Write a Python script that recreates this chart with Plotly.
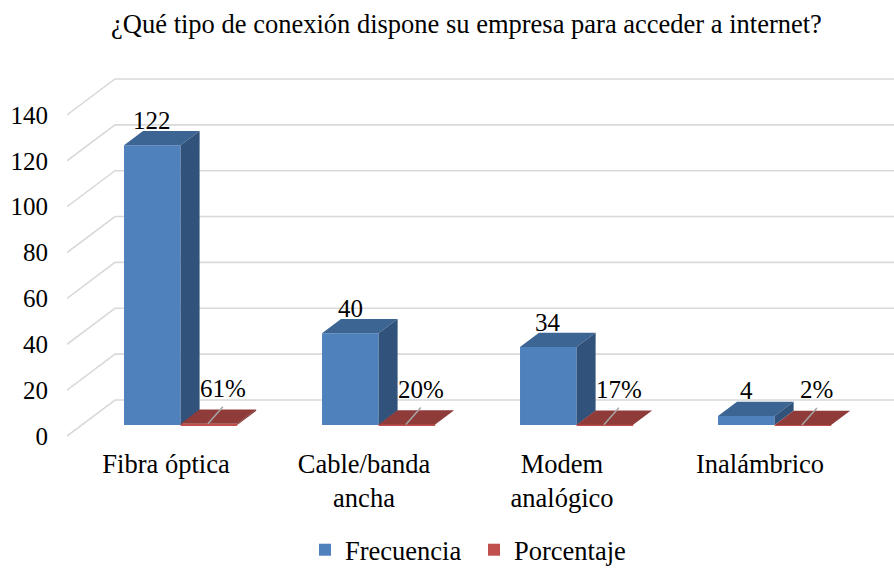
import plotly.graph_objects as go

# ---------------- data ----------------
categories = ["Fibra óptica", "Cable/banda<br>ancha", "Modem<br>analógico", "Inalámbrico"]
frecuencia = [122, 40, 34, 4]
porcentaje = [0.61, 0.20, 0.17, 0.02]
frecuencia_labels = ["122", "40", "34", "4"]
porcentaje_labels = ["61%", "20%", "17%", "2%"]
y_ticks = [0, 20, 40, 60, 80, 100, 120, 140]
title_text = "¿Qué tipo de conexión dispone su empresa para acceder a internet?"

# ---------------- geometry / style ----------------
W, H = 894, 569
L, R, T, B = 67, 0, 60, 129           # margins (px)
PX_CAT = 198.0                         # px per category
PX_VAL = 2.293                         # px per value unit
x_range = [-0.5, -0.5 + (W - L - R) / PX_CAT]
y_bottom_px = H - B
y_range = [(436 - y_bottom_px) / PX_VAL, (436 - T) / PX_VAL]
DX = 48.0 / PX_CAT      # full floor depth, in x units
DY = 36.0 / PX_VAL      # full floor depth, in y units
F0, F1 = 0.304, 0.70    # bar depth (front, back) as fraction of floor depth
BW = 2.0 / 7.0          # bar width (gap width 150%)
FONT = "'Liberation Serif', 'Times New Roman', Times, 'DejaVu Serif', serif"
FS_NUM = 25
FS_TXT = 26.5

blue = dict(front="#4F81BD", top="#3C6594", side="#31527A")
red = dict(front="#C0504D", top="#8E3B3A", side="#7A3231")
GRID = "#D9D9D9"

fig = go.Figure()

# gridlines: front-left diagonal + back wall horizontal
shapes = []
for v in y_ticks:
    x0, y0 = x_range[0], v
    x1, y1 = x_range[0] + DX, v + DY
    shapes.append(dict(type="path", xref="x", yref="y", layer="below",
                       path=f"M{x0},{y0} L{x1},{y1} L{x_range[1]},{y1}",
                       line=dict(color=GRID, width=1.6)))

def add_series(name, values, colors, side):
    xs = []
    for i in range(len(values)):
        xc = i + F0 * DX + (BW / 2 if side else -BW / 2)
        xs.append(xc)
    base = F0 * DY
    fig.add_trace(go.Bar(name=name, x=xs, y=values, base=base, width=BW,
                         marker=dict(color=colors["front"], line=dict(width=0)),
                         hoverinfo="skip"))
    dd = F1 - F0
    for xc, v in zip(xs, values):
        xl, xr = xc - BW / 2, xc + BW / 2
        top = base + v
        # top face
        fig.add_trace(go.Scatter(
            x=[xl, xr, xr + dd * DX, xl + dd * DX, xl],
            y=[top, top, top + dd * DY, top + dd * DY, top],
            fill="toself", fillcolor=colors["top"], mode="lines",
            line=dict(width=0), showlegend=False, hoverinfo="skip"))
        # side face
        fig.add_trace(go.Scatter(
            x=[xr, xr + dd * DX, xr + dd * DX, xr, xr],
            y=[base, base + dd * DY, top + dd * DY, top, base],
            fill="toself", fillcolor=colors["side"], mode="lines",
            line=dict(width=0), showlegend=False, hoverinfo="skip"))
    return xs

xs_blue = add_series("Frecuencia", frecuencia, blue, False)
xs_red = add_series("Porcentaje", porcentaje, red, True)

base = F0 * DY
annotations = []
for xc, v, t in zip(xs_blue, frecuencia, frecuencia_labels):
    annotations.append(dict(x=xc, y=base + v, text=t, showarrow=False,
                            xanchor="center", yanchor="middle", yshift=25,
                            font=dict(family=FONT, size=FS_NUM, color="black")))
for xc, v, t in zip(xs_red, porcentaje, porcentaje_labels):
    annotations.append(dict(x=xc, y=base + v, text=t, showarrow=False,
                            xanchor="center", yanchor="middle", xshift=14, yshift=35.5,
                            font=dict(family=FONT, size=FS_NUM, color="black")))
    # leader line
    fig.add_trace(go.Scatter(
        x=[xc - 1 / PX_CAT, xc + 14 / PX_CAT],
        y=[base + v, base + v + 17 / PX_VAL],
        mode="lines", line=dict(color="#A6A6A6", width=1.5),
        showlegend=False, hoverinfo="skip"))

fig.update_layout(
    width=W, height=H, autosize=False,
    margin=dict(l=L, r=R, t=T, b=B),
    paper_bgcolor="white", plot_bgcolor="white",
    barmode="overlay",
    showlegend=True,
    font=dict(family=FONT, size=FS_TXT, color="black"),
    title=dict(text=title_text, x=466.5 / W, xanchor="center", xref="container",
               y=1 - 23.5 / H, yanchor="middle", yref="container",
               font=dict(family=FONT, size=FS_TXT, color="black")),
    legend=dict(orientation="h", xref="container", yref="container",
                x=305 / W, xanchor="left", y=1 - 550 / H, yanchor="middle",
                entrywidth=124,
                font=dict(family=FONT, size=FS_TXT, color="black"),
                bgcolor="rgba(0,0,0,0)"),
    shapes=shapes,
    annotations=annotations,
    xaxis=dict(range=x_range, tickvals=list(range(len(categories))), ticktext=categories,
               showgrid=False, zeroline=False, showline=False, ticks="",
               ticklabelstandoff=5, fixedrange=True,
               tickfont=dict(family=FONT, size=FS_TXT, color="black")),
    yaxis=dict(range=y_range, tickvals=y_ticks, showgrid=False, zeroline=False,
               showline=False, ticks="", ticklabelstandoff=18, fixedrange=True,
               tickfont=dict(family=FONT, size=FS_NUM, color="black")),
)

fig.write_html("out.html", config={"displayModeBar": False},
               post_script="document.body.style.margin='0';document.body.style.overflow='hidden';")
